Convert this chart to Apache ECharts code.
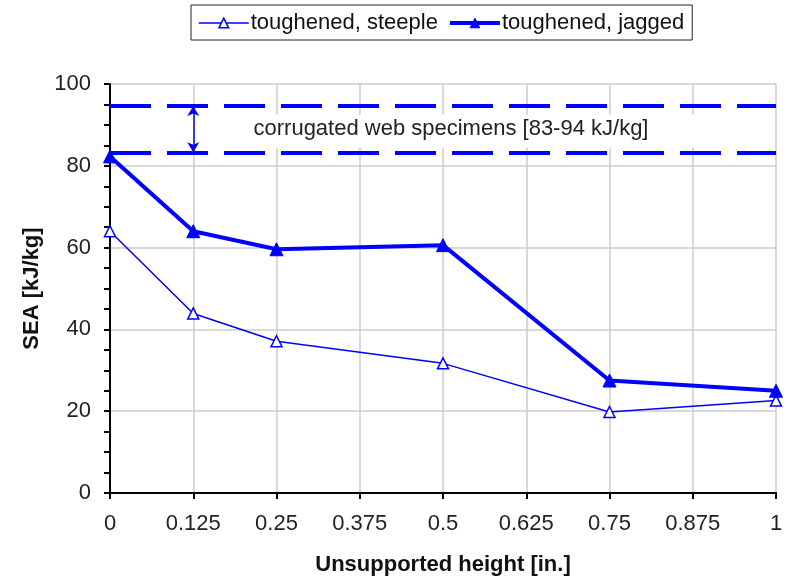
<!DOCTYPE html>
<html>
<head>
<meta charset="utf-8">
<script src="https://cdn.jsdelivr.net/npm/echarts@6/dist/echarts.min.js"></script>
<style>
html,body{margin:0;padding:0;background:#fff;}
#chart{width:788px;height:581px;}
</style>
</head>
<body>
<div id="chart"></div>
<script>
var heights = [0, 0.125, 0.25, 0.5, 0.75, 1];
var steeple = [64.0, 43.9, 37.1, 31.7, 19.8, 22.6];
var jagged = [82.3, 64.0, 59.6, 60.6, 27.5, 25.0];
var corrugatedBand = [83.3, 94.6];
var bandLabel = 'corrugated web specimens [83-94 kJ/kg]';
var seriesNames = ['toughened, steeple', 'toughened, jagged'];

function pairs(xs, ys) { return xs.map(function (x, i) { return [x, ys[i]]; }); }

var FONT = 'Liberation Sans, Arial, sans-serif';
var FS = 22;
var BLUE = '#0000ff';

var chart = echarts.init(document.getElementById('chart'), null, {renderer: 'canvas'});
chart.setOption({
  animation: false,
  backgroundColor: '#fff',
  textStyle: {fontFamily: FONT},
  grid: {left: 110, right: 12, top: 84, bottom: 87, containLabel: false},
  legend: {
    data: [
      {name: seriesNames[0], lineStyle: {color: BLUE, width: 1.5},
        itemStyle: {color: '#ffffff', borderColor: BLUE, borderWidth: 1.5}},
      {name: seriesNames[1], lineStyle: {color: BLUE, width: 4},
        itemStyle: {color: BLUE, borderColor: BLUE, borderWidth: 1}}
    ],
    left: 191, top: 5,
    padding: [7, 8, 6, 7],
    itemWidth: 50, itemHeight: 12, itemGap: 10,
    borderColor: '#222', borderWidth: 1,
    textStyle: {fontFamily: FONT, fontSize: FS, color: '#111', padding: [0, 0, 0, -3]}
  },
  xAxis: {
    type: 'value', min: 0, max: 1, interval: 0.125,
    name: 'Unsupported height [in.]', nameLocation: 'middle', nameGap: 61,
    nameTextStyle: {fontFamily: FONT, fontSize: FS, fontWeight: 'bold', color: '#111'},
    axisLine: {show: true, onZero: false, lineStyle: {color: '#000', width: 2}},
    axisTick: {show: true, length: 6, lineStyle: {color: '#000', width: 2}},
    axisLabel: {fontFamily: FONT, fontSize: FS, color: '#222', margin: 20},
    splitLine: {show: true, lineStyle: {color: '#cccccc', width: 1.5}}
  },
  yAxis: {
    type: 'value', min: 0, max: 100, interval: 20,
    name: 'SEA [kJ/kg]', nameLocation: 'middle', nameGap: 67, nameRotate: 90,
    nameTextStyle: {fontFamily: FONT, fontSize: FS, fontWeight: 'bold', color: '#111'},
    axisLine: {show: true, onZero: false, lineStyle: {color: '#000', width: 2}},
    axisTick: {show: true, length: 6, lineStyle: {color: '#000', width: 2}},
    minorTick: {show: true, splitNumber: 4, length: 6, lineStyle: {color: '#000', width: 2}},
    axisLabel: {fontFamily: FONT, fontSize: FS, color: '#222', margin: 19},
    splitLine: {show: true, lineStyle: {color: '#cccccc', width: 1.5}}
  },
  series: [
    {
      name: 'band', type: 'line', data: [], silent: true,
      markArea: {
        silent: true,
        itemStyle: {color: '#ffffff'},
        data: [[{coord: [0.135, 92.5]}, {coord: [0.995, 84.5]}]]
      },
      markLine: {
        silent: true, symbol: 'none',
        label: {show: false},
        lineStyle: {color: BLUE, width: 4, type: [41, 16]},
        data: [{yAxis: corrugatedBand[0]}, {yAxis: corrugatedBand[1]}]
      },
      markPoint: {
        silent: true, symbol: 'circle', symbolSize: 0,
        label: {show: true, position: 'inside', formatter: bandLabel,
          fontFamily: FONT, fontSize: FS, color: '#222'},
        data: [{coord: [0.512, (corrugatedBand[0] + corrugatedBand[1]) / 2]}]
      }
    },
    {
      name: 'arrow', type: 'line', data: [], silent: true,
      markLine: {
        silent: true, symbol: ['arrow', 'arrow'], symbolSize: [9, 10],
        label: {show: false},
        lineStyle: {color: BLUE, width: 1.5, type: 'solid'},
        data: [[{coord: [0.125, corrugatedBand[1]]}, {coord: [0.125, corrugatedBand[0]]}]]
      }
    },
    {
      name: seriesNames[0], type: 'line', data: pairs(heights, steeple),
      symbol: 'triangle', symbolSize: 11, showAllSymbol: true,
      lineStyle: {color: BLUE, width: 1.5},
      itemStyle: {color: '#ffffff', borderColor: BLUE, borderWidth: 1.5},
      z: 3
    },
    {
      name: seriesNames[1], type: 'line', data: pairs(heights, jagged),
      symbol: 'triangle', symbolSize: 13, showAllSymbol: true,
      lineStyle: {color: BLUE, width: 4},
      itemStyle: {color: BLUE, borderColor: BLUE, borderWidth: 1},
      z: 4
    }
  ]
});
</script>
</body>
</html>
